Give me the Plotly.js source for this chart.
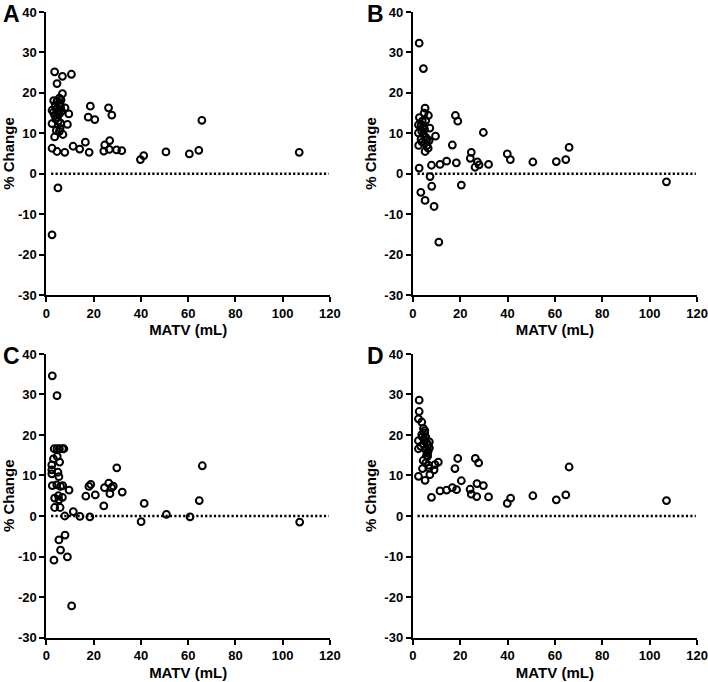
<!DOCTYPE html>
<html>
<head>
<meta charset="utf-8">
<script src="https://cdn.plot.ly/plotly-3.0.1.min.js"></script>
<style>html,body{margin:0;padding:0;background:#fff}#chart{width:708px;height:682px}</style>
</head>
<body>
<div id="chart"></div>
<script>
// Panel A
const matvA   = [3.5,10.6,6.8,4.5,6.8,3.1,4.5,5.5,6.2,5.8,2.4,3.0,3.5,4.2,4.8,5.5,6.5,7.9,9.5,2.4,4.0,5.0,6.0,5.8,8.9,3.5,4.2,5.5,7.0,4.5,3.8,6.0,
                 2.4,4.5,7.8,11.3,14.1,16.5,18.1,18.6,17.7,20.5,26.3,27.7,26.8,24.7,24.3,26.6,29.7,31.9,39.8,41.2,50.6,60.5,64.5,65.8,107.0,4.9,2.4];
const changeA = [25.2,24.6,24.1,22.3,19.8,18.1,18.0,18.7,18.3,17.5,15.7,15.2,14.5,16.0,15.3,14.8,15.5,16.3,14.8,12.4,13.5,13.0,12.5,11.2,12.2,9.1,10.7,10.5,9.7,14.0,17.0,16.5,
                 6.3,5.5,5.3,6.8,6.1,7.8,5.3,16.7,14.0,13.4,16.3,14.5,8.2,7.1,5.6,6.0,5.9,5.7,3.5,4.5,5.4,4.9,5.8,13.2,5.3,-3.5,-15.1];
// Panel B
const matvB   = [2.7,4.5,5.2,4.8,6.6,2.8,4.0,5.5,2.4,3.5,4.5,5.0,7.2,2.4,3.8,4.5,5.5,3.5,6.9,5.0,6.0,2.5,6.5,5.2,4.0,6.0,
                 2.7,3.4,5.2,7.3,8.0,9.0,11.0,7.9,11.5,14.3,9.6,18.0,19.0,16.7,18.4,20.5,24.7,24.3,27.3,26.3,28.0,29.8,32.0,39.9,41.2,50.7,60.6,64.6,66.0,107.1];
const changeB = [32.3,26.0,16.2,15.0,14.4,13.9,13.0,13.2,12.1,12.0,11.8,11.0,11.3,10.1,10.5,9.8,9.0,8.5,8.2,7.5,7.0,7.0,6.3,5.5,7.8,8.5,
                 1.4,-4.6,-6.6,-0.7,-3.1,-8.1,-16.9,2.1,2.3,3.1,9.3,14.4,13.0,7.1,2.7,-2.8,5.3,3.8,2.9,1.6,2.2,10.2,2.3,4.9,3.5,2.9,3.0,3.5,6.5,-2.0];
// Panel C
const matvC   = [2.5,4.5,3.3,4.5,5.5,6.8,7.4,4.6,3.0,5.6,2.3,2.3,4.9,2.3,5.3,2.5,4.4,6.0,6.9,9.6,5.1,3.5,6.8,5.3,3.5,5.8,7.8,11.4,14.2,18.4,
                 5.3,6.0,3.2,7.9,8.9,10.7,16.7,18.0,18.8,20.7,24.3,24.6,26.4,27.6,28.3,26.9,29.8,32.1,40.1,41.4,50.8,60.8,64.7,66.0,107.2];
const changeC = [34.6,29.7,16.6,16.6,16.6,16.6,16.6,14.7,14.1,13.3,12.6,11.4,10.8,10.4,9.7,7.5,7.7,7.3,7.5,6.4,5.0,4.4,4.6,4.0,2.1,2.1,0.0,1.1,-0.1,-0.2,
                 -5.9,-8.4,-10.9,-4.7,-10.1,-22.2,4.9,7.3,7.8,5.2,2.5,7.0,8.1,7.0,7.4,5.5,11.9,5.9,-1.4,3.1,0.4,-0.2,3.8,12.4,-1.5];
// Panel D
const matvD   = [2.7,2.7,2.4,3.8,4.5,5.1,3.8,2.4,4.8,7.0,2.4,3.4,5.5,6.2,6.5,4.4,5.5,6.7,4.1,6.9,9.4,10.8,9.0,2.4,5.2,7.2,
                 5.0,5.5,6.0,6.5,5.8,4.5,7.0,6.3,5.0,4.0,
                 7.9,11.5,14.3,16.7,18.5,17.8,19.0,20.5,24.2,24.7,27.0,26.4,27.8,27.1,29.8,32.0,39.9,41.3,50.7,60.6,64.6,66.0,107.1];
const changeD = [28.6,25.8,24.0,23.2,21.6,21.1,20.1,18.6,19.0,18.3,16.6,17.2,16.4,15.6,17.5,13.7,13.1,12.5,11.7,11.8,12.7,13.3,11.4,9.8,8.8,10.2,
                 20.5,19.5,18.0,16.0,15.0,17.8,16.8,14.8,18.5,19.5,
                 4.6,6.2,6.4,7.0,6.5,11.7,14.2,8.7,6.6,5.4,4.8,14.2,13.1,8.0,7.5,4.7,3.1,4.4,5.0,4.0,5.2,12.1,3.8];

const xTicks = [0,20,40,60,80,100,120];
const yTicks = [-30,-20,-10,0,10,20,30,40];
const panelLetters = ['A','B','C','D'];
const xTitle = 'MATV (mL)';
const yTitle = '% Change';

const FONT = 'Liberation Sans, Arial, Helvetica, sans-serif';
const W = 708, H = 682;

const panels = [
  {x: matvA, y: changeA, xd: [0.0655, 0.466], yd: [0.5674, 0.9824]},
  {x: matvB, y: changeB, xd: [0.583, 0.9845], yd: [0.5674, 0.9824]},
  {x: matvC, y: changeC, xd: [0.0655, 0.466], yd: [0.0652, 0.4810]},
  {x: matvD, y: changeD, xd: [0.583, 0.9845], yd: [0.0652, 0.4810]}
];

const data = [];
const layout = {
  width: W, height: H,
  margin: {l: 0, r: 0, t: 0, b: 0},
  paper_bgcolor: '#fff', plot_bgcolor: '#fff',
  showlegend: false,
  font: {family: FONT, color: '#000'},
  shapes: [], annotations: []
};

panels.forEach((p, i) => {
  const n = i + 1;
  const xa = n === 1 ? 'x' : 'x' + n;
  const ya = n === 1 ? 'y' : 'y' + n;
  data.push({
    type: 'scatter', mode: 'markers',
    x: p.x, y: p.y, xaxis: xa, yaxis: ya,
    cliponaxis: false,
    marker: {symbol: 'circle-open', size: 6.8, color: '#000', line: {width: 2, color: '#000'}},
    hoverinfo: 'x+y'
  });
  const common = {
    showgrid: false, zeroline: false, showline: true, linecolor: '#000', linewidth: 2,
    ticks: 'outside', ticklen: 5, tickwidth: 2, tickcolor: '#000',
    tickfont: {family: FONT, size: 13, weight: 'bold', color: '#000'},
    fixedrange: true
  };
  layout[n === 1 ? 'xaxis' : 'xaxis' + n] = Object.assign({}, common, {
    domain: p.xd, anchor: ya, range: [0, 120], tickvals: xTicks, ticktext: xTicks.map(String),
    title: {text: xTitle, font: {family: FONT, size: 15, weight: 'bold', color: '#000'}, standoff: 5}
  });
  layout[n === 1 ? 'yaxis' : 'yaxis' + n] = Object.assign({}, common, {
    domain: p.yd, anchor: xa, range: [-30, 40], tickvals: yTicks, ticktext: yTicks.map(String),
    title: {text: yTitle, font: {family: FONT, size: 15, weight: 'bold', color: '#000'}, standoff: 4}
  });
  layout.shapes.push({
    type: 'line', xref: xa, yref: ya, x0: 2, x1: 119.5, y0: 0, y1: 0, layer: 'below',
    line: {color: '#000', width: 2.4, dash: '2.2px,2.2px'}
  });
  layout.annotations.push({
    text: panelLetters[i], xref: 'paper', yref: 'paper',
    x: (i % 2 === 0 ? 1 : 365) / W, y: 1 - (i < 2 ? -1 : 341) / H,
    xanchor: 'left', yanchor: 'top', showarrow: false,
    font: {family: FONT, size: 23, weight: 'bold', color: '#000'}
  });
});

Plotly.newPlot('chart', data, layout, {displayModeBar: false, staticPlot: true});
</script>
</body>
</html>
